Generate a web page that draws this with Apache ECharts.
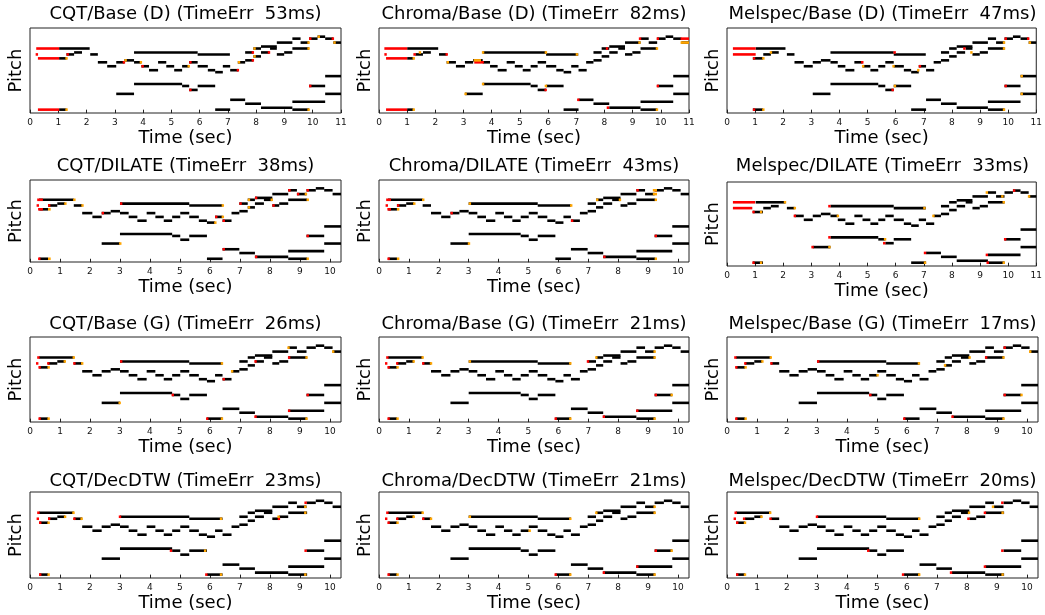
<!DOCTYPE html>
<html><head><meta charset="utf-8">
<script src="https://cdn.jsdelivr.net/npm/echarts@6/dist/echarts.min.js"></script>
<style>html,body{margin:0;padding:0;background:#fff}#c{width:1045px;height:615px}</style>
</head><body><div id="c"></div>
<script>
// ---------- DATA ----------
const panelTitles = [
  'CQT/Base (D) (TimeErr  53ms)', 'Chroma/Base (D) (TimeErr  82ms)', 'Melspec/Base (D) (TimeErr  47ms)',
  'CQT/DILATE (TimeErr  38ms)', 'Chroma/DILATE (TimeErr  43ms)', 'Melspec/DILATE (TimeErr  33ms)',
  'CQT/Base (G) (TimeErr  26ms)', 'Chroma/Base (G) (TimeErr  21ms)', 'Melspec/Base (G) (TimeErr  17ms)',
  'CQT/DecDTW (TimeErr  23ms)', 'Chroma/DecDTW (TimeErr  21ms)', 'Melspec/DecDTW (TimeErr  20ms)'
];
const ticksD = [0,1,2,3,4,5,6,7,8,9,10,11];
const ticksG = [0,1,2,3,4,5,6,7,8,9,10];
const xMaxD = 11, xMaxG = 10.37;
const pitchMin = -1.7, pitchMax = 41.4;

// notes: [start sec, end sec, pitch step]
const scoreD_melody = [[1.29,1.56,28],[1.56,1.84,29],[2.13,2.4,28],[2.4,2.73,24],[2.73,3.05,22],[3.05,3.34,24],[3.34,3.68,25],
  [3.68,3.94,24],[3.68,5.93,29],[3.94,4.21,22],[4.21,4.53,20],[4.53,4.82,24],[4.82,5.1,22],[5.1,5.38,20],[5.38,5.63,22],
  [5.63,5.93,24],[5.93,7.07,28],[5.93,6.29,22],[6.29,6.55,20],[6.55,6.82,19],[6.82,7.08,22],[7.08,7.37,20],[7.35,7.61,24],
  [7.61,7.9,25],[7.61,7.9,29],[7.9,8.17,31],[7.9,8.17,27],[8.17,8.73,32],[8.49,8.73,31],[8.17,8.47,29],[8.73,8.99,28],
  [8.99,9.28,29],[8.73,9.28,34],[9.28,9.87,31],[9.28,9.57,36],[9.57,9.87,34],[9.87,10.17,36],[10.17,10.44,37],
  [10.44,10.73,36],[10.73,11.0,34]];
const scoreD_bass = [[3.05,3.68,8],[3.68,5.38,13],[5.38,5.63,12],[5.63,5.93,10],[5.93,6.55,12],[6.55,7.08,0],[7.08,7.61,5],
  [7.61,8.17,3],[8.17,9.28,1],[9.28,10.44,4],[9.28,9.87,0],[9.87,10.44,12],[10.44,11.0,17],[10.44,11.0,8]];
const introD_cqt = [[1.03,2.11,31],[1.03,1.29,26],[1.03,1.29,0]];
const introD_chroma = [[1.0,2.1,31],[1.0,1.22,26],[1.0,1.22,0]];
const introD_mel = [[1.02,2.08,31],[0.92,1.28,26],[0.92,1.28,0]];

const scoreG_melody = [[0.6,0.91,28],[0.91,1.17,29],[1.46,1.74,28],[1.74,2.08,24],[2.08,2.39,22],[2.39,2.69,24],[2.69,3.0,25],
  [3.0,3.29,24],[3.0,5.31,29],[3.29,3.58,22],[3.58,3.89,20],[3.89,4.18,24],[4.18,4.46,22],[4.46,4.74,20],[4.74,5.01,22],
  [5.01,5.31,24],[5.31,6.42,28],[5.31,5.63,22],[5.63,5.9,20],[5.9,6.17,19],[6.17,6.42,22],[6.42,6.72,20],[6.72,6.98,24],
  [6.98,7.26,25],[6.98,7.26,29],[7.26,7.5,31],[7.26,7.5,27],[7.5,8.08,32],[7.8,8.08,31],[7.5,7.8,29],[8.08,8.31,28],
  [8.31,8.61,29],[8.08,8.61,34],[8.61,9.24,31],[8.61,8.9,36],[8.9,9.22,34],[9.22,9.53,36],[9.53,9.81,37],[9.81,10.09,36],
  [10.09,10.37,34]];
const scoreG_bass = [[2.39,3.0,8],[3.0,4.74,13],[4.74,5.01,12],[5.01,5.31,10],[5.31,5.9,12],[5.9,6.42,0],[6.42,6.98,5],
  [6.98,7.5,3],[7.5,8.61,1],[8.61,9.81,4],[8.61,9.24,0],[9.22,9.81,12],[9.81,10.37,17],[9.81,10.37,8]];
const introG = [[0.3,1.46,31],[0.31,0.6,26],[0.31,0.6,0]];

// reference-only (red) and estimate-only (orange) segments per panel
const red_P1 = [[0.22,1.03,31],[0.2,0.26,28],[0.28,1.03,26],[0.28,1.03,0],[1.29,1.35,28],[3.28,3.34,24],[3.94,4.0,22],
  [5.63,5.69,24],[5.63,5.69,10],[7.31,7.37,20],[7.84,7.9,25],[7.84,7.9,29],[8.41,8.47,29],[9.87,9.93,36],[10.67,10.73,36],[9.87,9.93,12]];
const orange_P1 = [[1.25,1.31,26],[1.25,1.31,0],[3.34,3.4,25],[3.88,3.94,24],[5.57,5.63,22],[7.35,7.41,24],[7.9,7.96,31],
  [7.9,7.96,27],[9.81,9.87,31],[9.81,9.87,34],[10.17,10.23,37],[10.73,10.79,34],[9.81,9.87,0]];
const red_P2 = [[0.19,1.0,31],[0.19,0.24,28],[0.25,1.0,26],[0.25,1.0,0],[1.22,1.28,28],[2.36,2.42,28],[3.38,3.72,24],
  [5.87,5.93,10],[7.03,7.09,5],[8.05,8.11,31],[8.08,8.14,1],[9.22,9.28,36],[9.85,9.91,12],[9.85,9.91,36],[10.7,11.0,36]];
const orange_P2 = [[1.19,1.25,26],[1.19,1.25,0],[1.41,1.47,29],[2.4,2.46,24],[3.03,3.09,8],[3.36,3.62,25],[3.65,3.72,29],
  [3.65,3.72,13],[5.88,5.94,29],[5.88,5.94,12],[6.98,7.04,28],[9.2,9.26,34],[9.82,9.88,31],[9.82,9.88,0],[10.7,11.0,34]];
const red_P3 = [[0.21,1.02,31],[0.21,1.02,28],[0.92,0.97,26],[0.92,0.97,0],[4.77,4.83,24],[5.92,5.98,29],[5.85,5.91,10],
  [6.82,6.88,22],[8.4,8.46,31],[9.87,9.93,12],[9.87,9.93,36],[10.67,10.73,36]];
const orange_P3 = [[1.25,1.31,26],[1.25,1.31,0],[1.52,1.58,29],[4.8,4.86,22],[5.88,5.94,22],[5.93,5.99,12],[6.76,6.82,20],
  [8.65,8.71,29],[9.81,9.87,31],[9.81,9.87,34],[9.81,9.87,0],[10.44,10.5,17],[10.44,10.5,8],[10.73,10.79,34]];
const red_P4 = [[0.24,0.43,31],[0.22,0.27,28],[0.6,0.66,28],[0.27,0.43,26],[0.27,0.33,0],[2.39,2.45,24],[3.0,3.06,29],
  [6.17,6.23,22],[6.42,6.48,20],[6.42,6.48,5],[6.98,7.04,29],[7.5,7.56,32],[7.5,7.56,1],[8.08,8.14,28],[8.61,8.67,36],
  [8.9,8.96,34],[9.22,9.28,36],[9.22,9.28,12]];
const orange_P4 = [[1.44,1.5,31],[1.14,1.2,29],[0.6,0.69,26],[0.6,0.69,0],[1.71,1.77,28],[2.97,3.03,8],[6.14,6.2,19],
  [6.39,6.45,22],[6.39,6.45,28],[7.26,7.32,31],[7.26,7.32,27],[8.02,8.08,31],[9.16,9.22,34],[9.22,9.28,31],[9.22,9.28,0]];
const red_P5 = [[0.24,0.4,31],[0.22,0.27,28],[0.6,0.66,28],[0.28,0.4,26],[0.28,0.34,0],[2.39,2.45,24],[6.42,6.48,20],
  [7.5,7.56,1],[8.61,8.67,36],[9.22,9.28,12],[9.22,9.28,36]];
const orange_P5 = [[1.44,1.5,31],[1.14,1.2,29],[0.6,0.68,26],[0.6,0.68,0],[2.97,3.03,8],[3.0,3.06,29],[6.39,6.45,28],
  [7.26,7.32,31],[8.02,8.08,31],[9.16,9.3,34],[9.22,9.28,31],[9.22,9.28,0],[9.16,9.3,36]];
const red_P6 = [[0.21,1.0,31],[0.21,0.9,28],[0.9,0.95,0],[0.9,0.95,26],[2.37,2.43,24],[3.0,3.06,8],[3.6,3.66,29],
  [3.6,3.66,13],[5.55,5.61,10],[7.0,7.06,5],[9.23,9.29,0],[9.2,9.26,4],[9.85,9.91,12],[10.17,10.23,37]];
const orange_P6 = [[1.17,1.23,0],[1.17,1.23,26],[2.02,2.08,31],[2.37,2.43,28],[3.6,3.66,8],[3.9,3.96,24],[5.58,5.64,12],
  [6.98,7.04,28],[7.0,7.06,0],[7.3,7.36,24],[9.8,9.86,0],[9.8,9.86,31],[9.2,9.26,36],[9.75,9.81,34],[10.7,10.76,34]];
const red_P7 = [[0.24,0.3,31],[0.2,0.25,28],[0.57,0.62,28],[0.28,0.34,26],[0.28,0.34,0],[1.44,1.5,28],[3.0,3.05,29],
  [4.72,4.78,12],[5.87,5.93,0],[7.48,7.54,29],[7.48,7.54,1],[8.6,8.66,31],[8.6,8.66,4],[9.22,9.28,12],[6.42,6.48,20]];
const orange_P7 = [[1.42,1.48,31],[1.12,1.18,29],[0.58,0.64,26],[0.58,0.64,0],[1.7,1.76,28],[6.36,6.42,28],[6.36,6.42,0],
  [9.18,9.24,31],[9.18,9.24,0],[10.07,10.13,34],[8.58,8.64,36],[6.7,6.76,24],[2.95,3.01,8]];
const red_P8 = [[0.24,0.3,31],[0.2,0.25,28],[0.57,0.62,28],[0.28,0.34,26],[0.28,0.34,0],[1.44,1.5,28],[5.87,5.93,0],
  [7.48,7.54,1],[8.6,8.66,4],[9.22,9.28,12],[6.95,7.01,29]];
const orange_P8 = [[1.42,1.48,31],[1.12,1.18,29],[0.58,0.64,26],[0.58,0.64,0],[1.7,1.76,28],[3.0,3.06,29],[6.36,6.42,28],
  [6.36,6.42,0],[9.18,9.24,31],[9.18,9.24,0],[9.18,9.24,34],[9.75,9.81,12],[7.23,7.29,31]];
const red_P9 = [[0.24,0.3,31],[0.27,0.33,26],[0.27,0.33,0],[0.57,0.62,28],[1.44,1.5,28],[3.0,3.05,29],[4.74,4.8,12],
  [5.87,5.93,0],[7.48,7.54,1],[8.6,8.66,31],[9.22,9.28,12],[9.22,9.28,36]];
const orange_P9 = [[1.42,1.48,31],[0.58,0.64,26],[0.58,0.64,0],[1.14,1.2,29],[4.98,5.04,22],[6.36,6.42,28],[7.23,7.29,27],
  [8.05,8.11,31],[9.18,9.24,31],[9.18,9.24,0],[9.78,9.84,12],[10.07,10.13,34]];
const red_P10 = [[0.24,0.3,31],[0.22,0.27,28],[0.6,0.66,28],[0.3,0.35,26],[0.3,0.35,0],[1.44,1.5,28],[2.96,3.02,29],
  [4.66,4.72,12],[5.84,5.9,0],[8.26,8.32,28],[9.15,9.21,12],[9.15,9.21,36]];
const orange_P10 = [[1.41,1.47,31],[1.13,1.19,29],[0.58,0.64,26],[0.58,0.64,0],[1.68,1.74,28],[6.33,6.39,28],[6.33,6.39,0],
  [9.14,9.2,31],[9.14,9.2,0],[5.8,5.86,12],[8.25,8.31,29],[9.14,9.2,34]];
const red_P11 = [[0.24,0.3,31],[0.2,0.25,28],[0.57,0.62,28],[0.28,0.34,26],[0.28,0.34,0],[1.44,1.5,28],[5.87,5.93,0],
  [7.48,7.54,1],[9.22,9.28,12],[8.6,8.66,4]];
const orange_P11 = [[1.42,1.48,31],[1.12,1.18,29],[0.58,0.64,26],[0.58,0.64,0],[1.7,1.76,28],[3.0,3.06,29],[5.0,5.06,22],
  [6.36,6.42,28],[6.36,6.42,0],[7.23,7.29,31],[9.18,9.24,31],[9.18,9.24,0],[9.18,9.24,34],[9.75,9.81,12]];
const red_P12 = [[0.25,0.3,31],[0.22,0.27,28],[0.53,0.58,28],[0.3,0.35,26],[0.3,0.35,0],[1.41,1.47,28],[2.96,3.02,29],
  [4.67,4.72,12],[5.83,5.89,0],[7.43,7.49,1],[8.01,8.07,28],[8.56,8.62,31],[8.56,8.62,4],[9.14,9.2,12],[9.14,9.2,36]];
const orange_P12 = [[1.4,1.46,31],[1.11,1.17,29],[0.56,0.62,26],[0.56,0.62,0],[6.37,6.43,0],[6.37,6.43,28],[8.03,8.09,31],
  [9.15,9.21,31],[9.15,9.21,0],[8.83,8.89,34]];

// ---------- PANELS ----------
const panels = [
  {melody: scoreD_melody, bass: scoreD_bass, intro: introD_cqt, red: red_P1, orange: orange_P1, xmax: xMaxD, ticks: ticksD},
  {melody: scoreD_melody, bass: scoreD_bass, intro: introD_chroma, red: red_P2, orange: orange_P2, xmax: xMaxD, ticks: ticksD},
  {melody: scoreD_melody, bass: scoreD_bass, intro: introD_mel, red: red_P3, orange: orange_P3, xmax: xMaxD, ticks: ticksD},
  {melody: scoreG_melody, bass: scoreG_bass, intro: introG, red: red_P4, orange: orange_P4, xmax: xMaxG, ticks: ticksG},
  {melody: scoreG_melody, bass: scoreG_bass, intro: introG, red: red_P5, orange: orange_P5, xmax: xMaxG, ticks: ticksG},
  {melody: scoreD_melody, bass: scoreD_bass, intro: introD_mel, red: red_P6, orange: orange_P6, xmax: xMaxD, ticks: ticksD},
  {melody: scoreG_melody, bass: scoreG_bass, intro: introG, red: red_P7, orange: orange_P7, xmax: xMaxG, ticks: ticksG},
  {melody: scoreG_melody, bass: scoreG_bass, intro: introG, red: red_P8, orange: orange_P8, xmax: xMaxG, ticks: ticksG},
  {melody: scoreG_melody, bass: scoreG_bass, intro: introG, red: red_P9, orange: orange_P9, xmax: xMaxG, ticks: ticksG},
  {melody: scoreG_melody, bass: scoreG_bass, intro: introG, red: red_P10, orange: orange_P10, xmax: xMaxG, ticks: ticksG},
  {melody: scoreG_melody, bass: scoreG_bass, intro: introG, red: red_P11, orange: orange_P11, xmax: xMaxG, ticks: ticksG},
  {melody: scoreG_melody, bass: scoreG_bass, intro: introG, red: red_P12, orange: orange_P12, xmax: xMaxG, ticks: ticksG}
];

// ---------- LAYOUT ----------
const colLeft = [30, 379, 727], colWidth = [311, 310, 311];
const rowTop = [28, 180, 337, 492], rowHeight = [85, 82, 85, 86];
const titleY = [15, 167, 325, 482];
const FONT = 'DejaVu Sans';

function rectOf(i) {
  const r = Math.floor(i / 3), c = i % 3;
  let top = rowTop[r], h = rowHeight[r];
  if (i === 5) { top = 182; h = 84; }
  return {left: colLeft[c], top: top, width: colWidth[c], height: h, r: r, c: c};
}

function makeRenderer(minW) {
  return function (params, api) {
    const a = api.coord([api.value(0), api.value(2)]);
    const b = api.coord([api.value(1), api.value(2)]);
    const h = Math.max(2.6, api.size([0, 1])[1] * 1.3);
    return {type: 'rect', shape: {x: a[0], y: a[1] - h / 2, width: Math.max(minW, b[0] - a[0]), height: h},
            style: {fill: api.visual('color')}};
  };
}
const noteRenderer = makeRenderer(1.6);
const markRenderer = makeRenderer(2.4);

const titles = [], grids = [], xAxes = [], yAxes = [], series = [];
panels.forEach((p, i) => {
  const R = rectOf(i);
  titles.push({text: panelTitles[i], left: R.left + R.width / 2, top: titleY[R.r] - 10, textAlign: 'center', padding: 0,
    textStyle: {fontFamily: FONT, fontSize: 18, fontWeight: 'normal', color: '#000'}});
  grids.push({left: R.left, top: R.top, width: R.width, height: R.height, show: true,
    borderColor: '#222', borderWidth: 1, backgroundColor: '#fff'});
  xAxes.push({type: 'value', gridIndex: i, min: 0, max: p.xmax, interval: 1,
    name: 'Time (sec)', nameLocation: 'middle', nameGap: 16,
    nameTextStyle: {fontFamily: FONT, fontSize: 18, color: '#000'},
    axisLine: {show: false},
    axisTick: {show: true, length: 3.5, lineStyle: {color: '#222', width: 1}, customValues: p.ticks},
    axisLabel: {fontFamily: FONT, fontSize: 9, margin: 5, color: '#111', customValues: p.ticks},
    splitLine: {show: false}});
  yAxes.push({type: 'value', gridIndex: i, min: pitchMin, max: pitchMax,
    name: 'Pitch', nameLocation: 'middle', nameGap: 5, nameRotate: 90,
    nameTextStyle: {fontFamily: FONT, fontSize: 18, color: '#000'},
    axisLine: {show: false}, axisTick: {show: false}, axisLabel: {show: false}, splitLine: {show: false}});
  const common = {type: 'custom', xAxisIndex: i, yAxisIndex: i,
    encode: {x: [0, 1], y: 2}, clip: true, silent: true};
  series.push(Object.assign({}, common, {name: 'both', renderItem: noteRenderer, data: p.melody.concat(p.bass, p.intro), itemStyle: {color: '#000'}}));
  series.push(Object.assign({}, common, {name: 'ref', renderItem: markRenderer, data: p.red, itemStyle: {color: '#ff0000'}}));
  series.push(Object.assign({}, common, {name: 'est', renderItem: markRenderer, data: p.orange, itemStyle: {color: '#ffa500'}}));
});

const chart = echarts.init(document.getElementById('c'), null, {renderer: 'canvas'});
chart.setOption({animation: false, backgroundColor: '#fff', title: titles, grid: grids,
  xAxis: xAxes, yAxis: yAxes, series: series});
</script></body></html>
